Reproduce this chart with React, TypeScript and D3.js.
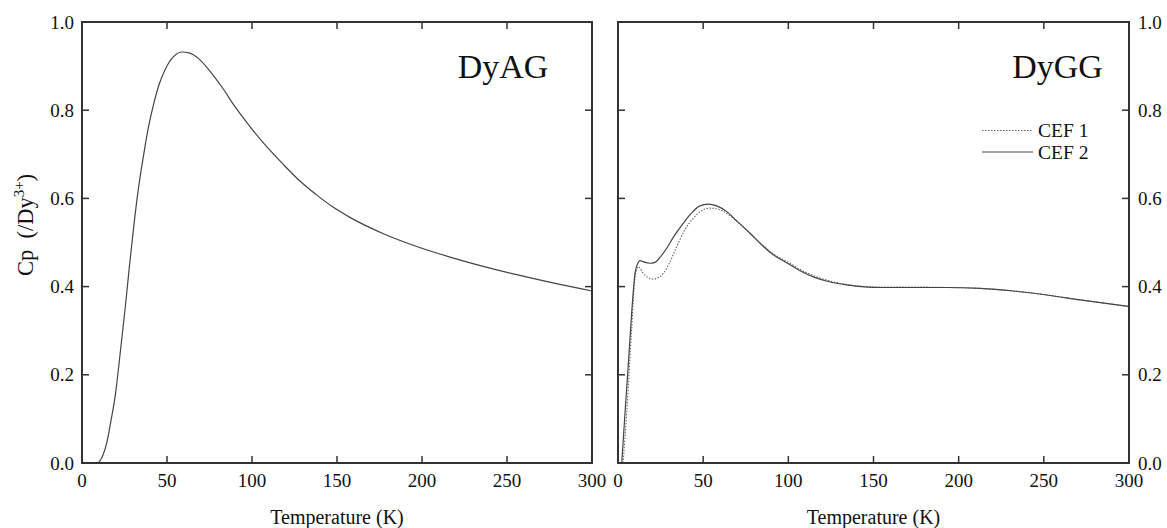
import React from 'react';
import * as d3 from 'd3';

// ---- data ----
const dyagT = [0, 8.8, 12, 14.7, 17, 19.6, 22.5, 25.5, 28, 30.4, 33, 36.3, 39, 42.2, 45.5, 49, 54, 58.8, 63, 68.6, 75, 82.4, 90, 98.8, 108, 118.4, 128, 138, 147, 157.6, 177.3, 196.9, 216.5, 236, 255.7, 275, 300];
const dyagCp = [0, 0, 0.015, 0.048, 0.095, 0.154, 0.25, 0.355, 0.45, 0.535, 0.617, 0.7, 0.76, 0.815, 0.86, 0.893, 0.922, 0.932, 0.93, 0.917, 0.89, 0.852, 0.808, 0.763, 0.72, 0.677, 0.64, 0.608, 0.582, 0.557, 0.52, 0.491, 0.467, 0.446, 0.427, 0.41, 0.39];

const cef2T = [2.2, 4.1, 6.1, 8, 10, 11.5, 12.9, 15, 18.8, 21.7, 25, 28.6, 33, 38.4, 43, 48.1, 53, 58, 63.8, 70, 77.5, 84, 91.2, 100, 106.9, 114.7, 124, 134.3, 153.8, 173.4, 193, 212.6, 232.2, 251.7, 271.3, 300];
const cef2Cp = [0, 0.113, 0.226, 0.339, 0.43, 0.452, 0.459, 0.456, 0.453, 0.455, 0.468, 0.487, 0.515, 0.544, 0.566, 0.583, 0.587, 0.583, 0.57, 0.548, 0.521, 0.496, 0.472, 0.452, 0.436, 0.422, 0.411, 0.404, 0.398, 0.398, 0.398, 0.396, 0.39, 0.381, 0.37, 0.355];

const cef1T = [3, 5.1, 8, 10, 11.9, 14.9, 17.5, 20.7, 23.5, 26.6, 30, 34.4, 39, 44.2, 49, 54, 58.5, 63.8, 70, 77.5, 84, 91.2, 100, 106.9, 114.7, 124, 134.3, 153.8, 173.4, 193, 212.6, 232.2, 251.7, 271.3, 300];
const cef1Cp = [0, 0.113, 0.302, 0.422, 0.445, 0.43, 0.421, 0.417, 0.42, 0.43, 0.452, 0.49, 0.527, 0.555, 0.572, 0.578, 0.576, 0.566, 0.547, 0.521, 0.497, 0.474, 0.455, 0.439, 0.425, 0.413, 0.405, 0.399, 0.399, 0.398, 0.396, 0.39, 0.381, 0.37, 0.355];

const xTicks = [0, 50, 100, 150, 200, 250, 300];
const yTicks = [0, 0.2, 0.4, 0.6, 0.8, 1.0];
const yTickLabels = ['0.0', '0.2', '0.4', '0.6', '0.8', '1.0'];
const legendLabels = ['CEF 1', 'CEF 2'];

const W = 1167;
const H = 528;
const TOP = 22;
const BOTTOM = 463;
const FONT = '"Liberation Serif", "Times New Roman", serif';
const FRAME = '#333';
const LINE = '#444';
const TICK = 7;

type Panel = { x0: number; x1: number; id: string };
const leftP: Panel = { x0: 82, x1: 592, id: 'l' };
const rightP: Panel = { x0: 618, x1: 1129, id: 'r' };

const yScale = d3.scaleLinear().domain([0, 1]).range([BOTTOM, TOP]);

function xScaleFor(p: Panel) {
  return d3.scaleLinear().domain([0, 300]).range([p.x0, p.x1]);
}

function makePath(p: Panel, T: number[], V: number[]) {
  const x = xScaleFor(p);
  const gen = d3
    .line<number>()
    .x((_, i) => x(T[i]))
    .y((v) => yScale(v))
    .curve(d3.curveMonotoneX);
  return gen(V) || '';
}

function Frame({ p, showLeftLabels, showRightLabels }: { p: Panel; showLeftLabels: boolean; showRightLabels: boolean }) {
  const x = xScaleFor(p);
  return (
    <g>
      {xTicks.map((t) => (
        <g key={'xt' + t}>
          <line x1={x(t)} x2={x(t)} y1={BOTTOM} y2={BOTTOM - TICK} stroke={FRAME} strokeWidth={1.5} />
          <line x1={x(t)} x2={x(t)} y1={TOP} y2={TOP + TICK} stroke={FRAME} strokeWidth={1.5} />
          <text x={x(t)} y={BOTTOM + 24} textAnchor="middle" fontFamily={FONT} fontSize={19} fill="#111">
            {t}
          </text>
        </g>
      ))}
      {yTicks.map((v, i) => (
        <g key={'yt' + v}>
          <line x1={p.x0} x2={p.x0 + TICK} y1={yScale(v)} y2={yScale(v)} stroke={FRAME} strokeWidth={1.5} />
          <line x1={p.x1} x2={p.x1 - TICK} y1={yScale(v)} y2={yScale(v)} stroke={FRAME} strokeWidth={1.5} />
          {showLeftLabels && (
            <text x={p.x0 - 8} y={yScale(v) + 6.5} textAnchor="end" fontFamily={FONT} fontSize={19} fill="#111">
              {yTickLabels[i]}
            </text>
          )}
          {showRightLabels && (
            <text x={p.x1 + 9} y={yScale(v) + 6.5} textAnchor="start" fontFamily={FONT} fontSize={19} fill="#111">
              {yTickLabels[i]}
            </text>
          )}
        </g>
      ))}
      <rect x={p.x0} y={TOP} width={p.x1 - p.x0} height={BOTTOM - TOP} fill="none" stroke={FRAME} strokeWidth={2} />
      <text x={(p.x0 + p.x1) / 2} y={524} textAnchor="middle" fontFamily={FONT} fontSize={20} fill="#111">
        Temperature (K)
      </text>
    </g>
  );
}

export default function App() {
  const lx = xScaleFor(leftP);
  const rx = xScaleFor(rightP);
  return (
    <svg width={W} height={H} style={{ position: 'absolute', left: 0, top: 0, background: '#fff' }}>
      <defs>
        <clipPath id="clipL">
          <rect x={leftP.x0} y={TOP} width={leftP.x1 - leftP.x0} height={BOTTOM - TOP} />
        </clipPath>
        <clipPath id="clipR">
          <rect x={rightP.x0} y={TOP} width={rightP.x1 - rightP.x0} height={BOTTOM - TOP} />
        </clipPath>
      </defs>
      <rect x={0} y={0} width={W} height={H} fill="#fff" />

      {/* left panel */}
      <g clipPath="url(#clipL)">
        <path d={makePath(leftP, dyagT, dyagCp)} fill="none" stroke={LINE} strokeWidth={1.2} />
      </g>
      <Frame p={leftP} showLeftLabels={true} showRightLabels={false} />
      <text x={lx(221)} y={78} textAnchor="start" fontFamily={FONT} fontSize={34} fill="#111">
        DyAG
      </text>

      {/* right panel */}
      <g clipPath="url(#clipR)">
        <path d={makePath(rightP, cef1T, cef1Cp)} fill="none" stroke="#666" strokeWidth={1.1} strokeDasharray="1.5,1.5" />
        <path d={makePath(rightP, cef2T, cef2Cp)} fill="none" stroke={LINE} strokeWidth={1.2} />
      </g>
      <Frame p={rightP} showLeftLabels={false} showRightLabels={true} />
      <text x={rx(284.7)} y={78} textAnchor="end" fontFamily={FONT} fontSize={34} fill="#111">
        DyGG
      </text>

      {/* legend */}
      <g>
        <line x1={982} x2={1033} y1={130.5} y2={130.5} stroke="#666" strokeWidth={1.1} strokeDasharray="1.5,1.5" />
        <text x={1038} y={137} fontFamily={FONT} fontSize={19.5} fill="#111">{legendLabels[0]}</text>
        <line x1={982} x2={1033} y1={152} y2={152} stroke={LINE} strokeWidth={1.2} />
        <text x={1038} y={159} fontFamily={FONT} fontSize={19.5} fill="#111">{legendLabels[1]}</text>
      </g>

      {/* y axis title */}
      <text
        transform="translate(33,225) rotate(-90)"
        textAnchor="middle"
        fontFamily={FONT}
        fontSize={22.5}
        fill="#111"
      >
        Cp{'\u00a0\u00a0'}(/Dy<tspan dy={-9} fontSize={15}>3+</tspan><tspan dy={9}>)</tspan>
      </text>
    </svg>
  );
}
